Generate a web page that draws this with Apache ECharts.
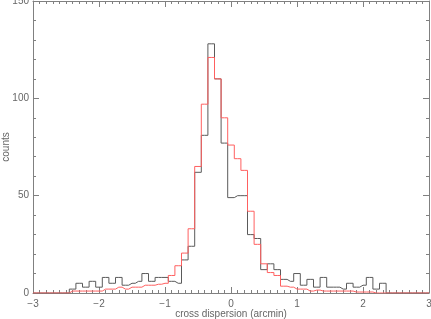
<!DOCTYPE html>
<html><head><meta charset="utf-8">
<script src="https://cdn.jsdelivr.net/npm/echarts@6/dist/echarts.min.js"></script>
<style>html,body{margin:0;padding:0;background:#fff}#c{width:431px;height:319px}</style>
</head><body><div id="c"></div>
<script>
// bin centres from -3.0 to 3.0, width 0.1
var binStart = -3.0;
var binWidth = 0.1;
var blackCounts = [0,0,0,0,0,0,
  2,5,3,6,3,8,5,8,4,5,6,10,6,8,8,6,5,
  17,24,62,81,128,110,77,49,
  50,50,30,28,12,15,12,7,6,10,4,7,3,8,3,3,2,5,3,4,8,2,5,
  0,0,0,0,0,0,0];
var redCounts = [0,0,0,0,0,0,
  1,1,1,1,1,2,2,3,2,3,3,4,4,4.5,5,9,14,
  20.5,33,65,97,121,110,90,76,
  69,63,42,25,15,10.5,9,3.5,3,2,2,1,1.5,1,1,1,1,1,0.5,0.5,0.5,0,0,
  0,0,0,0,0,0,0];
var xTicks = [-3,-2,-1,0,1,2,3];
var yTicks = [0,50,100,150];

function pairs(arr){
  var out = [];
  for (var i = 0; i < arr.length; i++) out.push([+(binStart + i*binWidth).toFixed(2), arr[i]]);
  return out;
}
var txt = '#666';
var ax = '#808080';
function xa(show){
  return {type:'value', min:-3, max:3, interval:1,
    axisLine:{show:true, onZero:false, lineStyle:{color:ax, width:1}},
    axisTick:{show:true, inside:true, length:6, lineStyle:{color:ax}},
    minorTick:{show:true, splitNumber:10, length:3, lineStyle:{color:ax}},
    splitLine:{show:false},
    axisLabel:{show:show, color:txt, fontFamily:'Liberation Sans', fontSize:10, margin:6,
      formatter:function(v){return String(v).replace('-','\u2212');}}
  };
}
function ya(show){
  return {type:'value', min:0, max:150, interval:50,
    axisLine:{show:true, onZero:false, lineStyle:{color:ax, width:1}},
    axisTick:{show:true, inside:true, length:6, lineStyle:{color:ax}},
    minorTick:{show:true, splitNumber:5, length:3, lineStyle:{color:ax}},
    splitLine:{show:false},
    axisLabel:{show:show, color:txt, fontFamily:'Liberation Sans', fontSize:10, margin:4}
  };
}
var x0 = xa(true);
x0.position = 'bottom';
x0.name = 'cross dispersion (arcmin)';
x0.nameLocation = 'middle';
x0.nameGap = 16;
x0.nameMoveOverlap = false;
x0.nameTextStyle = {color:txt, fontFamily:'Liberation Sans', fontSize:10};
var x1 = xa(false); x1.position = 'top';
var y0 = ya(true);
y0.position = 'left';
y0.name = 'counts';
y0.nameLocation = 'middle';
y0.nameGap = 22;
y0.nameMoveOverlap = false;
y0.nameTextStyle = {color:txt, fontFamily:'Liberation Sans', fontSize:10};
var y1 = ya(false); y1.position = 'right';

var chart = echarts.init(document.getElementById('c'), null, {renderer:'canvas'});
chart.setOption({
  animation:false,
  grid:{left:33, right:2, top:1, bottom:26, containLabel:false, outerBoundsMode:'none'},
  xAxis:[x0, x1],
  yAxis:[y0, y1],
  series:[
    {type:'line', step:'middle', data:pairs(blackCounts), showSymbol:false, symbol:'none',
     lineStyle:{color:'#5a5a5a', width:1}, itemStyle:{color:'#5a5a5a'}, z:2},
    {type:'line', step:'middle', data:pairs(redCounts), showSymbol:false, symbol:'none',
     lineStyle:{color:'#ff6060', width:1}, itemStyle:{color:'#ff6060'}, z:3}
  ]
});
</script></body></html>
